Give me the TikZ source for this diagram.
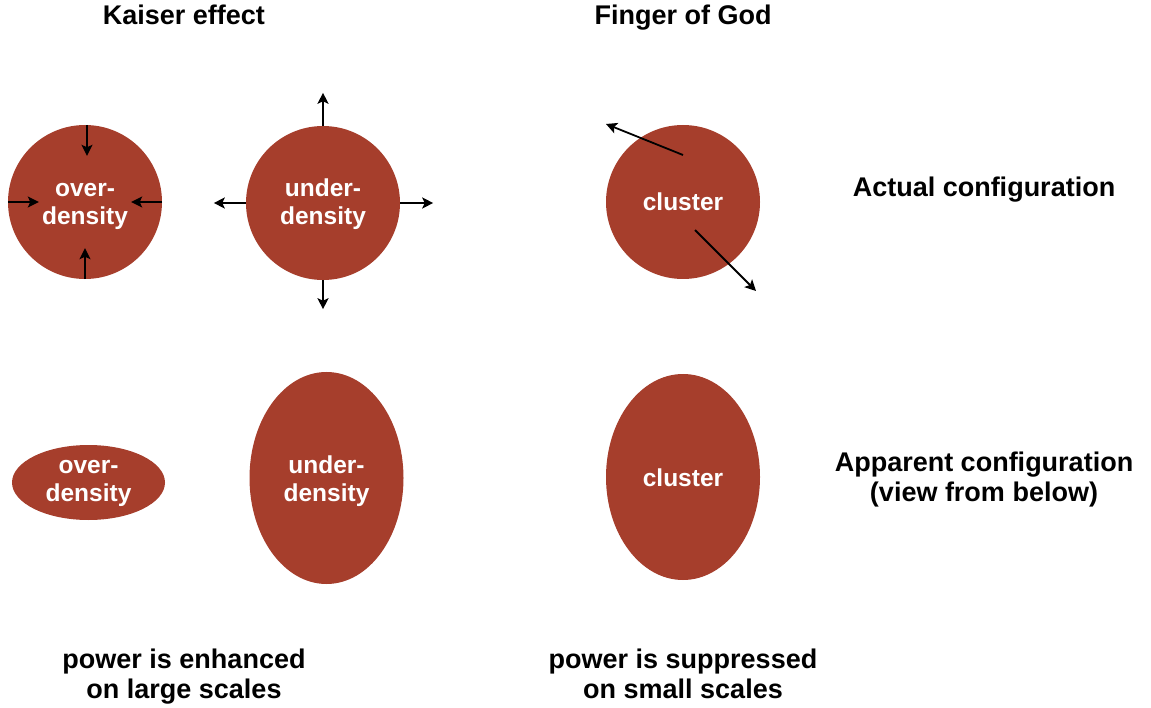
\documentclass[tikz,border=0pt]{standalone}
\usepackage{fontspec}
\setmainfont{Liberation Sans}
\usetikzlibrary{shapes.geometric,arrows.meta}
\definecolor{brick}{RGB}{166,62,44}
\begin{document}
\begin{tikzpicture}[x=1pt,y=-1pt,
  blob/.style={circle,fill=brick,minimum size=154pt,inner sep=0pt},
  oval/.style={ellipse,fill=brick,inner sep=0pt},
  intext/.style={text=white,font=\fontsize{24.5}{28}\selectfont\bfseries,align=center,anchor=base,inner sep=0pt},
  lbl/.style={font=\fontsize{27}{29.5}\selectfont\bfseries,align=center,anchor=base,inner sep=0pt},
  arr/.style={-{Stealth[length=11pt,width=11pt,inset=2.5pt]},line width=1.8pt}]
\useasboundingbox (0,0) rectangle (1151,708);
% titles
\node[lbl] (t1) at (184,25) {Kaiser effect};
\node[lbl] (t2) at (683,25) {Finger of God};
% top row
\node[blob] (od) at (85,202) {};
\node[intext] (odt) at (85,225) {over-\\density};
\node[blob] (ud) at (323,203) {};
\node[intext] (udt) at (323,225) {under-\\density};
\node[blob] (cl) at (683,202) {};
\node[intext] (clt) at (683,211) {cluster};
\node[lbl] (ac) at (984,197) {Actual configuration};
% arrows overdensity (inward)
\draw[arr] ([xshift=2pt]od.north) -- ++(0,31);
\draw[arr] (od.south) -- ++(0,-31);
\draw[arr] (od.west) -- ++(31,0);
\draw[arr] (od.east) -- ++(-31,0);
% arrows underdensity (outward)
\draw[arr] (ud.north) -- ++(0,-33);
\draw[arr] (ud.south) -- ++(0,29);
\draw[arr] (ud.west) -- ++(-32,0);
\draw[arr] (ud.east) -- ++(33,0);
% arrows cluster
\coordinate (c1) at ([shift={(0,-47)}]cl.center);
\coordinate (c2) at ([shift={(12,28)}]cl.center);
\draw[arr] (c1) -- ++(-77,-31);
\draw[arr] (c2) -- ++(61,61);
% bottom row
\node[oval,minimum width=153pt,minimum height=75pt] (od2) at (88.5,482.5) {};
\node[intext] (od2t) at (88.5,501) {over-\\density};
\node[oval,minimum width=154pt,minimum height=212pt] (ud2) at (326.5,478) {};
\node[intext] (ud2t) at (326.5,501) {under-\\density};
\node[oval,minimum width=154pt,minimum height=206pt] (cl2) at (683,477) {};
\node[intext] (cl2t) at (683,486) {cluster};
\node[lbl] (ap) at (984,501) {Apparent configuration\\(view from below)};
% bottom labels
\node[lbl] (p1) at (184,698) {power is enhanced\\on large scales};
\node[lbl] (p2) at (683,698) {power is suppressed\\on small scales};
\end{tikzpicture}
\end{document}
